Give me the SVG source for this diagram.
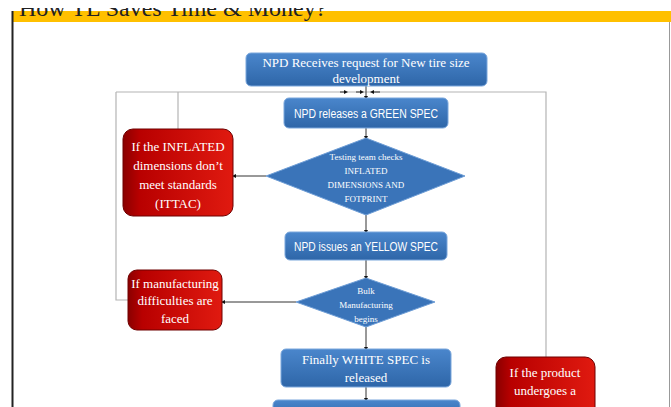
<svg xmlns="http://www.w3.org/2000/svg" width="671" height="407" viewBox="0 0 671 407">
<defs>
<linearGradient id="gBlue" x1="0" y1="0" x2="0" y2="1">
<stop offset="0" stop-color="#4a86cc"/>
<stop offset="1" stop-color="#2e66a8"/>
</linearGradient>
<linearGradient id="gRed" x1="0" y1="0" x2="1" y2="0">
<stop offset="0" stop-color="#8a0000"/>
<stop offset="0.15" stop-color="#b80000"/>
<stop offset="1" stop-color="#e01a10"/>
</linearGradient>
<marker id="dot" viewBox="0 0 6 6" refX="3" refY="3" markerWidth="4" markerHeight="4" orient="auto">
<path d="M0,0 L6,3 L0,6 Z" fill="#111"/>
</marker>
</defs>
<style>
.box{fill:url(#gBlue);stroke:#7ba7dc;stroke-width:1}
.dia{fill:#3a74b9;stroke:#6f9ed6;stroke-width:1}
.red{fill:url(#gRed);stroke:#6e0000;stroke-width:1}
.serif{font-family:"Liberation Serif","Times New Roman",serif;fill:#fff;text-anchor:middle}
.sans{font-family:"Liberation Sans",Arial,sans-serif;fill:#fff;text-anchor:middle}
.ln{stroke:#b4b4b4;stroke-width:1.2;fill:none}
.ar{stroke:#333;stroke-width:1;fill:none;marker-end:url(#dot)}
</style>
<rect width="671" height="407" fill="#fff"/>
<g id="header">
<rect x="12" y="11" width="659" height="11" fill="#ffc000"/>
<text x="19" y="16" font-family="Liberation Serif, serif" font-size="24" fill="#222">How TL Saves Time &amp; Money?</text>
<rect x="0" y="0" width="671" height="8" fill="#fff"/>
<line x1="12.5" y1="11" x2="12.5" y2="407" stroke="#222" stroke-width="2"/>
<line x1="669.5" y1="22" x2="669.5" y2="407" stroke="#999" stroke-width="1"/>
</g>
<g id="connectors">
<path class="ln" d="M116,92 H546 V357"/>
<path class="ln" d="M116,92 V300 H128"/>
<path class="ln" d="M178,92 V129"/>
<path class="ar" d="M340,92 H346"/>
<path class="ar" d="M356,92 H362"/>
<path class="ar" d="M380,92 H372"/>
<path class="ar" d="M366,86 V98"/>
<path class="ar" d="M366,128 V138"/>
<path class="ar" d="M266,176 H234"/>
<path class="ar" d="M366,215 V232"/>
<path class="ar" d="M366,260 V278"/>
<path class="ar" d="M296,302 H223"/>
<path class="ar" d="M366,327 V349"/>
<path class="ar" d="M366,387 V400"/>
</g>
<g id="n1">
<rect class="box" x="246" y="53" width="241" height="33" rx="5"/>
<text class="serif" x="366" y="67" font-size="13">NPD Receives request for New tire size</text>
<text class="serif" x="366" y="83" font-size="13">development</text>
</g>
<g id="n2">
<rect class="box" x="284" y="98" width="164" height="30" rx="5"/>
<text class="sans" x="366" y="118" font-size="12" textLength="144" lengthAdjust="spacingAndGlyphs">NPD releases a GREEN SPEC</text>
</g>
<g id="d1">
<polygon class="dia" points="366,138 465,176 366,215 266,176"/>
<text class="serif" x="366" y="160" font-size="9">Testing team checks</text>
<text class="serif" x="366" y="174" font-size="9">INFLATED</text>
<text class="serif" x="366" y="188" font-size="9">DIMENSIONS AND</text>
<text class="serif" x="366" y="202" font-size="9">FOTPRINT</text>
</g>
<g id="r1">
<rect class="red" x="123" y="129" width="110" height="87" rx="10"/>
<text class="serif" x="178" y="151" font-size="13">If the INFLATED</text>
<text class="serif" x="178" y="170" font-size="13">dimensions don’t</text>
<text class="serif" x="178" y="189" font-size="13">meet standards</text>
<text class="serif" x="178" y="208" font-size="13">(ITTAC)</text>
</g>
<g id="n3">
<rect class="box" x="285" y="232" width="162" height="28" rx="5"/>
<text class="sans" x="366" y="251" font-size="12" textLength="144" lengthAdjust="spacingAndGlyphs">NPD issues an YELLOW SPEC</text>
</g>
<g id="d2">
<polygon class="dia" points="366,278 435,302 366,327 296,302"/>
<text class="serif" x="366" y="294" font-size="9">Bulk</text>
<text class="serif" x="366" y="308" font-size="9">Manufacturing</text>
<text class="serif" x="366" y="322" font-size="9">begins</text>
</g>
<g id="r2">
<rect class="red" x="128" y="270" width="94" height="60" rx="9"/>
<text class="serif" x="175" y="288" font-size="13">If manufacturing</text>
<text class="serif" x="175" y="305" font-size="13">difficulties are</text>
<text class="serif" x="175" y="323" font-size="13">faced</text>
</g>
<g id="n4">
<rect class="box" x="281" y="349" width="170" height="38" rx="5"/>
<text class="serif" x="366" y="364" font-size="13">Finally WHITE SPEC is</text>
<text class="serif" x="366" y="382" font-size="13">released</text>
</g>
<g id="n5">
<rect class="box" x="273" y="400" width="187" height="20" rx="5"/>
</g>
<g id="r3">
<rect class="red" x="496" y="357" width="99" height="70" rx="10"/>
<text class="serif" x="545" y="377" font-size="13">If the product</text>
<text class="serif" x="545" y="395" font-size="13">undergoes a</text>
</g>
</svg>
